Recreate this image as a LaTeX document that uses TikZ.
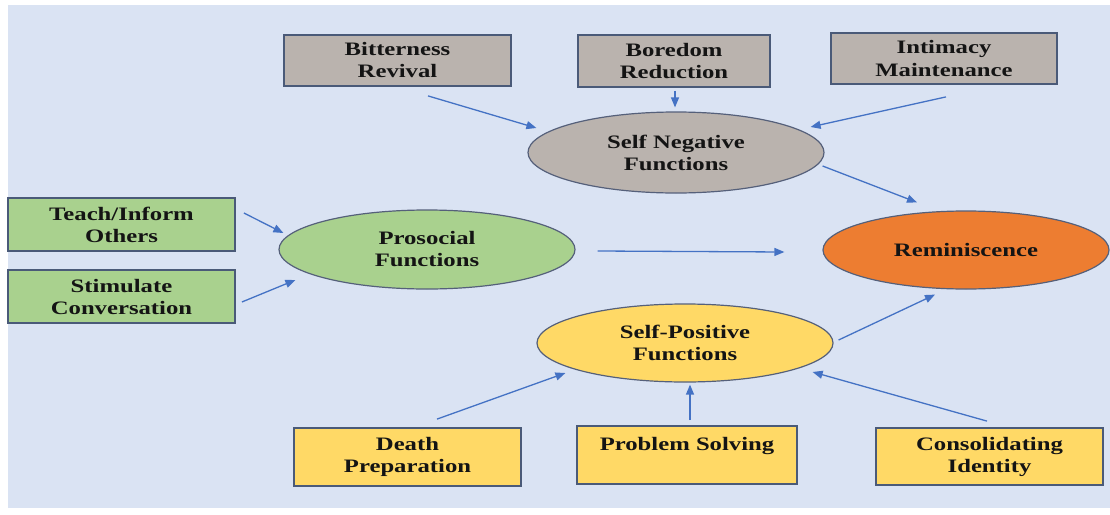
\documentclass[tikz,border=0pt]{standalone}
\usepackage{fontspec}
\usetikzlibrary{arrows.meta,calc,shapes.geometric}
\newfontfamily\labfont{Liberation Serif}[FakeStretch=1.3]
\definecolor{bgblue}{HTML}{DAE3F3}
\definecolor{boxgray}{HTML}{BAB3AE}
\definecolor{boxgreen}{HTML}{A9D18E}
\definecolor{boxyellow}{HTML}{FFD966}
\definecolor{boxorange}{HTML}{ED7D31}
\definecolor{boxline}{HTML}{4A5A78}
\definecolor{ellline}{HTML}{55607A}
\definecolor{arrblue}{HTML}{4472C4}
\definecolor{txt}{HTML}{141414}
\tikzset{
  lab/.style={text=txt, font=\labfont\bfseries\fontsize{19}{22}\selectfont, align=center},
  rbox/.style={lab, rectangle, draw=boxline, line width=1.8pt, inner sep=0pt},
  ell/.style={lab, ellipse, draw=ellline, line width=1.2pt, inner sep=0pt},
  arr/.style={draw=arrblue, line width=1.3pt, -{Triangle[length=10pt,width=8pt]}}
}
\begin{document}
\begin{tikzpicture}[x=1pt,y=-1pt]
\fill[white] (0,0) rectangle (1110,514);
\fill[bgblue] (8,5) rectangle (1110,508);
\useasboundingbox (0,0) rectangle (1110,514);
% top boxes
\node[rbox, fill=boxgray, minimum width=227pt, minimum height=51pt] (bit) at (397.5,60.5) {Bitterness\\Revival};
\node[rbox, fill=boxgray, minimum width=192pt, minimum height=52pt] (bor) at (674,61) {Boredom\\Reduction};
\node[rbox, fill=boxgray, minimum width=226pt, minimum height=51pt] (int) at (944,58.5) {Intimacy\\Maintenance};
% left boxes
\node[rbox, fill=boxgreen, minimum width=227pt, minimum height=53pt] (teach) at (121.5,224.5) {Teach/Inform\\Others};
\node[rbox, fill=boxgreen, minimum width=227pt, minimum height=53pt] (stim) at (121.5,296.5) {Stimulate\\Conversation};
% bottom boxes
\node[rbox, fill=boxyellow, minimum width=227pt, minimum height=58pt] (death) at (407.5,457) {Death\\Preparation};
\node[rbox, fill=boxyellow, minimum width=220pt, minimum height=58pt] (prob) at (687,455) {Problem Solving\\[0pt]~};
\node[rbox, fill=boxyellow, minimum width=227pt, minimum height=57pt] (cons) at (989.5,456.5) {Consolidating\\Identity};
% ellipses
\node[ell, fill=boxgray, minimum width=296pt, minimum height=81pt] (selfneg) at (676,152.5) {Self Negative\\Functions};
\node[ell, fill=boxgreen, minimum width=296pt, minimum height=79pt] (pros) at (427,249.5) {Prosocial\\Functions};
\node[ell, fill=boxorange, minimum width=286pt, minimum height=78pt] (rem) at (966,250) {Reminiscence};
\node[ell, fill=boxyellow, minimum width=296pt, minimum height=78pt] (selfpos) at (685,343) {Self-Positive\\Functions};
% arrows
\draw[arr] ($(bit.south)+(30.5,9)$) -- ($(selfneg.west)+(9,-24.5)$);
\draw[arr] ($(bor.south)+(1,3)$) -- ($(selfneg.north)+(-1,-4)$);
\draw[arr] ($(int.south)+(2,12)$) -- ($(selfneg.east)+(-14,-25.5)$);
\draw[arr] ($(selfneg.east)+(-2,13.5)$) -- ($(rem.north)+(-49,-8)$);
\draw[arr] ($(teach.east)+(8,-11.5)$) -- ($(pros.west)+(5,-16.5)$);
\draw[arr] ($(stim.east)+(6,5.5)$) -- ($(pros.west)+(17,30.5)$);
\draw[arr] ($(pros.east)+(22,1.5)$) -- ($(rem.west)+(-38,2)$);
\draw[arr] ($(selfpos.east)+(5,-3)$) -- ($(rem.south)+(-31,5)$);
\draw[arr] ($(death.north)+(29.5,-8)$) -- ($(selfpos.west)+(29,30)$);
\draw[arr] ($(prob.north)+(3,-5)$) -- ($(selfpos.south)+(5,2)$);
\draw[arr] ($(cons.north)+(-2.5,-6)$) -- ($(selfpos.east)+(-21,29)$);
\end{tikzpicture}
\end{document}
